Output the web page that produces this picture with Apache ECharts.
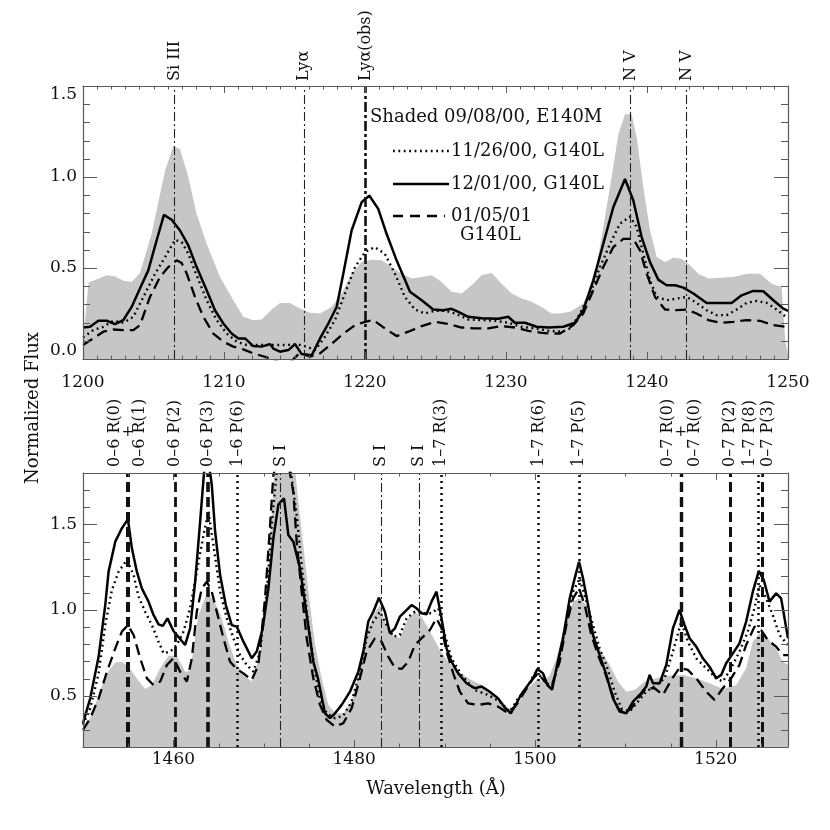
<!DOCTYPE html>
<html>
<head>
<meta charset="utf-8">
<script src="https://cdn.jsdelivr.net/npm/echarts@6/dist/echarts.min.js"></script>
<style>
  html, body { margin: 0; padding: 0; background: #fff; }
  #main { width: 830px; height: 830px; }
</style>
</head>
<body>
<div id="main"></div>
<script>
// ---- data: [wavelength (A), normalized flux] ----
const topShaded = [[1200.0,0.10],[1200.4,0.42],[1200.5,0.423],[1201.68,0.46],[1202.27,0.454],[1202.86,0.43],[1203.45,0.423],[1204.04,0.473],[1204.87,0.688],[1205.82,1.035],[1206.41,1.17],[1206.88,1.153],[1207.47,0.998],[1208.06,0.797],[1208.77,0.633],[1209.72,0.45],[1210.66,0.323],[1211.37,0.232],[1212.08,0.213],[1212.67,0.217],[1213.38,0.272],[1213.97,0.308],[1214.68,0.308],[1215.39,0.277],[1216.1,0.254],[1216.81,0.25],[1217.63,0.286],[1218.34,0.36],[1219.05,0.469],[1219.76,0.533],[1220.47,0.546],[1221.18,0.542],[1221.89,0.505],[1222.6,0.469],[1223.31,0.442],[1224.02,0.45],[1224.72,0.46],[1225.43,0.423],[1226.14,0.369],[1226.85,0.36],[1227.56,0.405],[1228.27,0.46],[1228.98,0.473],[1229.69,0.414],[1230.4,0.36],[1231.11,0.332],[1231.82,0.314],[1232.53,0.286],[1233.23,0.25],[1233.83,0.25],[1234.54,0.259],[1235.48,0.305],[1236.19,0.414],[1236.9,0.724],[1237.49,0.998],[1237.97,1.235],[1238.44,1.345],[1238.91,1.345],[1239.27,1.217],[1239.74,0.943],[1240.21,0.706],[1240.69,0.56],[1241.28,0.533],[1241.87,0.557],[1242.46,0.551],[1243.05,0.515],[1243.64,0.469],[1244.35,0.442],[1245.18,0.447],[1246.12,0.45],[1247.07,0.469],[1248.01,0.469],[1248.84,0.414],[1249.55,0.396],[1249.8,0.104],[1250.0,0.02]];
const topDotted = [[1200.0,0.119],[1200.73,0.159],[1201.44,0.177],[1202.15,0.21],[1202.86,0.199],[1203.57,0.232],[1204.4,0.359],[1205.11,0.469],[1205.82,0.56],[1206.53,0.655],[1207.0,0.642],[1207.47,0.578],[1208.06,0.46],[1208.77,0.323],[1209.48,0.214],[1210.19,0.14],[1210.9,0.095],[1211.61,0.077],[1212.55,0.077],[1213.5,0.077],[1214.44,0.077],[1215.15,0.082],[1215.86,0.068],[1216.45,0.049],[1217.16,0.122],[1217.87,0.214],[1218.58,0.36],[1219.29,0.505],[1220.0,0.588],[1220.7,0.615],[1221.41,0.578],[1222.12,0.469],[1222.83,0.341],[1223.54,0.272],[1224.25,0.25],[1224.96,0.265],[1225.67,0.265],[1226.38,0.25],[1227.32,0.217],[1228.27,0.214],[1229.22,0.21],[1230.16,0.199],[1231.11,0.177],[1232.05,0.168],[1233.0,0.155],[1234.0,0.15],[1234.6,0.17],[1235.25,0.25],[1235.96,0.36],[1236.67,0.505],[1237.38,0.633],[1238.08,0.743],[1238.79,0.783],[1239.27,0.724],[1239.74,0.578],[1240.21,0.432],[1240.69,0.341],[1241.39,0.323],[1242.1,0.332],[1242.81,0.341],[1243.52,0.308],[1244.23,0.268],[1244.94,0.241],[1245.65,0.241],[1246.36,0.272],[1247.07,0.308],[1247.78,0.319],[1248.49,0.308],[1249.2,0.272],[1249.91,0.228]];
const topSolid = [[1200.0,0.173],[1200.5,0.177],[1201.09,0.21],[1201.68,0.21],[1202.27,0.192],[1202.86,0.214],[1203.45,0.286],[1204.04,0.387],[1204.63,0.487],[1205.22,0.651],[1205.74,0.792],[1206.29,0.765],[1206.88,0.706],[1207.47,0.624],[1208.06,0.505],[1208.77,0.378],[1209.36,0.268],[1209.95,0.195],[1210.54,0.14],[1211.02,0.113],[1211.49,0.113],[1212.08,0.071],[1212.67,0.068],[1213.26,0.082],[1213.5,0.057],[1213.97,0.04],[1214.56,0.049],[1215.04,0.082],[1215.51,0.027],[1216.22,0.02],[1216.81,0.113],[1217.4,0.195],[1217.99,0.286],[1218.46,0.469],[1219.05,0.706],[1219.76,0.861],[1220.3,0.898],[1220.94,0.825],[1221.53,0.688],[1222.24,0.542],[1223.19,0.369],[1224.02,0.323],[1224.84,0.272],[1225.55,0.268],[1226.14,0.276],[1226.62,0.259],[1227.32,0.232],[1228.27,0.224],[1229.45,0.221],[1230.16,0.232],[1230.63,0.199],[1231.34,0.199],[1232.17,0.177],[1233.0,0.173],[1234.07,0.177],[1234.89,0.199],[1235.48,0.268],[1236.19,0.432],[1236.9,0.633],[1237.61,0.834],[1238.44,0.989],[1239.03,0.871],[1239.62,0.67],[1240.21,0.533],[1240.8,0.436],[1241.39,0.405],[1241.99,0.405],[1242.58,0.392],[1243.29,0.36],[1244.23,0.308],[1245.18,0.308],[1246.0,0.308],[1246.71,0.35],[1247.54,0.374],[1248.25,0.372],[1248.96,0.323],[1249.67,0.277],[1250.0,0.265]];
const topDashed = [[1200.0,0.077],[1200.73,0.113],[1201.44,0.15],[1202.15,0.162],[1202.86,0.159],[1203.57,0.159],[1204.04,0.186],[1204.75,0.341],[1205.46,0.45],[1206.05,0.505],[1206.64,0.542],[1207.0,0.527],[1207.36,0.469],[1207.94,0.341],[1208.53,0.232],[1209.24,0.14],[1209.95,0.095],[1210.66,0.068],[1211.37,0.053],[1212.08,0.031],[1213.03,0.009],[1213.97,-0.02],[1214.68,-0.02],[1215.39,0.035],[1216.1,0.013],[1216.81,0.031],[1217.4,0.068],[1218.34,0.131],[1219.29,0.186],[1220.0,0.204],[1220.59,0.214],[1221.41,0.168],[1222.24,0.126],[1223.07,0.15],[1224.02,0.181],[1224.96,0.204],[1225.9,0.192],[1226.85,0.173],[1227.8,0.168],[1228.74,0.168],[1229.69,0.181],[1230.63,0.173],[1231.58,0.155],[1232.53,0.144],[1233.12,0.14],[1233.83,0.14],[1234.77,0.186],[1235.48,0.25],[1236.19,0.378],[1236.9,0.505],[1237.61,0.615],[1238.32,0.66],[1239.03,0.66],[1239.5,0.597],[1239.98,0.469],[1240.57,0.341],[1241.28,0.272],[1242.1,0.268],[1242.81,0.272],[1243.52,0.25],[1244.35,0.214],[1245.18,0.199],[1246.12,0.204],[1247.07,0.214],[1248.01,0.21],[1248.96,0.186],[1249.79,0.177]];

const botShaded = [[1450.0,0.3],[1450.8,0.368],[1451.73,0.504],[1452.65,0.63],[1453.57,0.693],[1454.3,0.698],[1455.04,0.669],[1455.96,0.6],[1456.88,0.539],[1457.62,0.562],[1458.54,0.66],[1459.46,0.733],[1460.38,0.733],[1461.3,0.64],[1461.85,0.644],[1462.78,0.971],[1463.7,1.097],[1464.43,1.058],[1465.17,0.981],[1466.09,0.815],[1467.01,0.679],[1467.93,0.611],[1468.67,0.582],[1469.59,0.737],[1470.33,1.068],[1470.88,1.554],[1471.3,1.9],[1472.3,2.05],[1473.3,1.9],[1474.0,1.55],[1474.75,1.2],[1475.3,0.95],[1475.67,0.8],[1476.4,0.601],[1477.14,0.446],[1477.88,0.397],[1478.8,0.397],[1479.72,0.465],[1480.46,0.621],[1481.2,0.835],[1482.12,0.971],[1482.85,1.029],[1483.4,0.932],[1484.14,0.854],[1485.06,0.835],[1485.98,0.951],[1486.72,0.99],[1487.46,0.961],[1488.38,0.874],[1489.48,0.767],[1490.4,0.698],[1491.51,0.64],[1492.98,0.591],[1494.45,0.553],[1495.93,0.494],[1497.22,0.416],[1498.14,0.455],[1499.24,0.543],[1500.16,0.591],[1501.08,0.582],[1501.64,0.621],[1502.38,0.718],[1503.3,0.912],[1504.22,1.049],[1504.95,1.068],[1505.69,1.029],[1506.43,0.854],[1507.35,0.757],[1508.27,0.679],[1509.19,0.582],[1510.11,0.523],[1511.03,0.533],[1512.14,0.582],[1513.43,0.601],[1514.9,0.617],[1516.37,0.621],[1517.85,0.601],[1519.32,0.572],[1520.79,0.539],[1522.27,0.562],[1523.37,0.66],[1524.11,0.815],[1524.84,0.864],[1525.76,0.835],[1526.69,0.776],[1527.42,0.698],[1528.0,0.68]];
const botDotted = [[1450.0,0.33],[1450.8,0.426],[1451.73,0.63],[1452.46,0.912],[1453.2,1.117],[1453.94,1.224],[1454.86,1.292],[1455.6,1.204],[1456.15,1.078],[1456.88,0.99],[1457.62,0.912],[1458.36,0.815],[1458.91,0.747],[1459.65,0.757],[1460.38,0.796],[1461.12,0.874],[1461.85,1.01],[1462.59,1.224],[1463.33,1.438],[1463.88,1.574],[1464.43,1.379],[1465.17,1.107],[1465.91,0.951],[1466.64,0.835],[1467.38,0.737],[1468.12,0.679],[1468.85,0.64],[1469.59,0.757],[1470.33,1.107],[1470.88,1.496],[1471.43,1.807],[1472.5,2.0],[1473.64,1.554],[1474.19,1.263],[1474.93,0.912],[1475.67,0.64],[1476.22,0.484],[1476.96,0.397],[1477.88,0.368],[1478.8,0.383],[1479.72,0.465],[1480.64,0.64],[1481.38,0.835],[1482.12,0.932],[1482.85,0.99],[1483.59,0.912],[1484.33,0.844],[1485.06,0.854],[1485.8,0.951],[1486.72,0.99],[1487.64,0.981],[1488.56,0.981],[1489.3,1.01],[1490.04,0.854],[1490.77,0.718],[1491.88,0.621],[1493.35,0.533],[1494.82,0.504],[1496.11,0.465],[1497.22,0.407],[1498.14,0.484],[1499.06,0.543],[1499.98,0.63],[1500.72,0.611],[1501.45,0.562],[1502.0,0.562],[1502.74,0.737],[1503.48,0.932],[1504.22,1.107],[1504.95,1.185],[1505.69,1.049],[1506.43,0.912],[1507.16,0.776],[1507.9,0.679],[1508.82,0.523],[1509.56,0.426],[1510.48,0.407],[1511.4,0.465],[1512.32,0.523],[1513.43,0.562],[1514.35,0.601],[1515.27,0.757],[1516.19,0.932],[1516.92,0.815],[1517.85,0.718],[1518.95,0.66],[1520.06,0.601],[1520.79,0.582],[1521.71,0.66],[1522.63,0.757],[1523.55,0.874],[1524.29,1.01],[1524.84,1.146],[1525.58,1.068],[1526.32,0.971],[1527.06,0.854],[1527.98,0.796]];
const botSolid = [[1450.0,0.34],[1450.8,0.484],[1451.73,0.728],[1452.46,1.029],[1452.83,1.224],[1453.57,1.399],[1454.3,1.477],[1454.97,1.531],[1455.41,1.36],[1455.96,1.224],[1456.51,1.126],[1457.25,1.049],[1457.8,0.971],[1458.36,0.916],[1458.83,0.907],[1459.35,0.951],[1460.01,0.877],[1460.68,0.835],[1461.3,0.796],[1461.85,0.893],[1462.41,1.165],[1462.96,1.516],[1463.4,1.81],[1463.81,1.9],[1464.25,1.73],[1464.62,1.457],[1465.17,1.204],[1465.8,1.029],[1466.46,0.912],[1467.01,0.903],[1467.75,0.815],[1468.67,0.718],[1469.22,0.757],[1469.88,0.893],[1470.51,1.126],[1471.06,1.418],[1471.62,1.617],[1472.24,1.652],[1472.72,1.438],[1473.27,1.399],[1474.01,1.243],[1474.75,0.971],[1475.48,0.698],[1476.0,0.6],[1476.77,0.397],[1477.33,0.368],[1477.88,0.397],[1478.62,0.446],[1479.54,0.523],[1480.46,0.64],[1481.01,0.757],[1481.56,0.932],[1482.12,0.99],[1482.74,1.072],[1483.4,0.99],[1483.96,0.864],[1484.51,0.893],[1485.06,0.961],[1485.62,0.99],[1486.35,1.029],[1486.9,1.01],[1487.46,0.981],[1488.01,0.975],[1488.56,1.049],[1489.11,1.107],[1489.67,0.951],[1490.22,0.776],[1490.77,0.698],[1491.51,0.63],[1492.43,0.572],[1493.35,0.543],[1494.09,0.553],[1495.0,0.523],[1495.93,0.484],[1496.66,0.43],[1497.33,0.397],[1497.95,0.455],[1498.5,0.508],[1499.24,0.562],[1499.8,0.601],[1500.27,0.656],[1500.9,0.63],[1501.38,0.562],[1501.9,0.535],[1502.38,0.66],[1503.11,0.835],[1503.85,1.068],[1504.4,1.185],[1504.88,1.282],[1505.32,1.185],[1505.88,1.029],[1506.43,0.854],[1507.16,0.737],[1507.9,0.621],[1508.64,0.484],[1509.37,0.407],[1510.11,0.397],[1510.85,0.465],[1511.58,0.504],[1512.32,0.553],[1512.69,0.621],[1513.06,0.572],[1513.8,0.572],[1514.53,0.679],[1515.27,0.893],[1516.0,1.0],[1516.56,0.912],[1517.11,0.835],[1517.85,0.786],[1518.58,0.718],[1519.32,0.669],[1520.06,0.601],[1520.61,0.621],[1521.16,0.689],[1521.9,0.747],[1522.63,0.805],[1523.37,0.932],[1524.11,1.107],[1524.77,1.228],[1525.32,1.175],[1525.95,1.049],[1526.69,1.097],[1527.24,1.068],[1528.0,0.835]];
const botDashed = [[1450.0,0.3],[1450.8,0.368],[1451.73,0.484],[1452.65,0.64],[1453.57,0.776],[1454.3,0.874],[1454.97,0.912],[1455.6,0.854],[1456.33,0.718],[1457.07,0.601],[1457.8,0.562],[1458.54,0.582],[1459.28,0.679],[1460.01,0.718],[1460.75,0.64],[1461.49,0.582],[1462.04,0.718],[1462.59,0.99],[1463.14,1.126],[1463.7,1.165],[1464.25,1.107],[1464.8,0.99],[1465.54,0.835],[1466.27,0.698],[1467.01,0.656],[1467.75,0.63],[1468.67,0.591],[1469.4,0.679],[1470.14,1.068],[1470.7,1.496],[1471.06,1.788],[1472.2,2.0],[1473.27,1.69],[1473.64,1.399],[1474.19,1.107],[1474.75,0.835],[1475.48,0.601],[1476.22,0.446],[1476.96,0.358],[1477.88,0.319],[1478.8,0.339],[1479.72,0.426],[1480.64,0.601],[1481.38,0.757],[1482.3,0.835],[1483.04,0.815],[1483.77,0.728],[1484.51,0.663],[1485.25,0.656],[1485.98,0.698],[1486.72,0.796],[1487.46,0.835],[1488.38,0.883],[1489.11,0.951],[1489.67,0.893],[1490.22,0.757],[1490.96,0.63],[1491.69,0.523],[1492.61,0.455],[1493.72,0.446],[1494.82,0.455],[1495.93,0.436],[1497.03,0.397],[1497.95,0.446],[1498.87,0.523],[1499.8,0.601],[1500.35,0.63],[1501.08,0.582],[1501.82,0.553],[1502.74,0.698],[1503.48,0.912],[1504.22,1.068],[1504.88,1.126],[1505.51,1.029],[1506.24,0.854],[1506.98,0.737],[1507.72,0.64],[1508.45,0.523],[1509.19,0.426],[1509.93,0.397],[1510.66,0.426],[1511.4,0.484],[1512.32,0.543],[1513.24,0.543],[1514.16,0.504],[1515.08,0.591],[1516.0,0.663],[1516.92,0.65],[1517.85,0.601],[1518.95,0.523],[1519.87,0.475],[1520.79,0.543],[1521.71,0.601],[1522.63,0.679],[1523.37,0.796],[1524.29,0.903],[1525.03,0.883],[1525.76,0.825],[1526.69,0.786],[1527.42,0.737],[1528.0,0.737]];

// identified lines
const topLineWl = [1206.5, 1215.67, 1220.05, 1238.82, 1242.8];
const topLineNames = ['Si III', 'Lyα', 'Lyα(obs)', 'N V', 'N V'];
const botLineWl = [1454.95, 1460.2, 1463.85, 1467.1, 1471.85, 1483.0, 1487.2, 1489.6, 1500.4, 1504.9, 1516.15, 1521.6, 1524.7, 1525.1];
const botLabelNames = ['0–6 R(0)', '0–6 R(1)', '0–6 P(2)', '0–6 P(3)', '1–6 P(6)', 'S I', 'S I', 'S I', '1–7 R(3)', '1–7 R(6)', '1–7 P(5)', '0–7 R(0)', '0–7 R(0)', '0–7 P(2)', '1–7 P(8)', '0–7 P(3)'];
const botLabelWl = [1454.95, 1454.95, 1460.2, 1463.85, 1467.1, 1471.85, 1483.0, 1487.2, 1489.6, 1500.4, 1504.9, 1516.15, 1516.15, 1521.6, 1524.7, 1525.1];
const blendWl = [1454.95, 1516.15];

// axis ticks: [major values], minor step
const topXTicks = [1200, 1210, 1220, 1230, 1240, 1250];
const topYTicks = [0, 0.5, 1.0, 1.5];
const botXTicks = [1460, 1480, 1500, 1520];
const botYTicks = [0.5, 1.0, 1.5];

const legendText = ['Shaded 09/08/00, E140M', '11/26/00, G140L', '12/01/00, G140L', '01/05/01', 'G140L'];

// ---- styles ----
const FONT = '"DejaVu Serif", "Liberation Serif", serif';
const AX = '#5a5a5a';
const INK = '#111';
const GRAY = '#c6c6c6';
const dashDot = { color: '#222', width: 1.1, type: [9, 3, 2, 3] };
const thickDashDot = { color: '#111', width: 2.6, type: [10, 3, 3, 3] };
const dotV = { color: '#111', width: 2.6, type: [2, 4] };
const dashV = w => ({ color: '#111', width: w, type: [10, 5] });
const topLineStyles = [dashDot, dashDot, thickDashDot, dashDot, dashDot];
const botLineStyles = [dashV(4), dashV(2.8), dashV(3.6), dotV, dashDot, dashDot, dashDot, dotV, dotV, dotV, dashV(3.4), dashV(3), dotV, dashV(3)];
const botLabelDx = [-12.5, 12.5, 0, 0, 0, 0, 0, 0, 0, 0, 0, -13.5, 13.5, 0, -8, 6];

const chart = echarts.init(document.getElementById('main'));

function axis(o) {
  return Object.assign({
    type: 'value', z: 8,
    splitLine: { show: false },
    axisTick: { show: false },
    axisLine: { show: true, onZero: false, lineStyle: { color: AX, width: 1.2 } },
    axisLabel: { show: false }
  }, o);
}
const labelFont = { show: true, fontFamily: FONT, fontSize: 17, color: INK };
const intFmt = v => String(Math.round(v));
const fmt = v => Number(v).toFixed(1);

const xAxes = [
  axis({ gridIndex: 0, min: 1200, max: 1250, interval: 10, position: 'bottom',
    axisLabel: Object.assign({ margin: 15, formatter: intFmt }, labelFont) }),
  axis({ gridIndex: 0, min: 1200, max: 1250, position: 'top' }),
  axis({ gridIndex: 1, min: 1450, max: 1528, position: 'bottom',
    axisLabel: Object.assign({ margin: 4, customValues: botXTicks, formatter: intFmt }, labelFont) }),
  axis({ gridIndex: 1, min: 1450, max: 1528, position: 'top' })
];
const yAxes = [
  axis({ gridIndex: 0, min: 0, max: 1.5, interval: 0.5, position: 'left',
    axisLabel: Object.assign({ margin: 6, formatter: fmt, verticalAlignMinLabel: 'bottom', verticalAlignMaxLabel: 'top' }, labelFont) }),
  axis({ gridIndex: 0, min: 0, max: 1.5, position: 'right' }),
  axis({ gridIndex: 1, min: 0.2, max: 1.8, position: 'left',
    axisLabel: Object.assign({ margin: 6, formatter: fmt, customValues: botYTicks }, labelFont) }),
  axis({ gridIndex: 1, min: 0.2, max: 1.8, position: 'right' })
];

function shaded(data, xi, yi) {
  return { type: 'line', data, xAxisIndex: xi, yAxisIndex: yi, symbol: 'none', silent: true, z: 1,
    lineStyle: { width: 0 }, itemStyle: { color: GRAY }, areaStyle: { color: GRAY, opacity: 1, origin: 'start' } };
}
function curve(data, xi, yi, type, width) {
  return { type: 'line', data, xAxisIndex: xi, yAxisIndex: yi, symbol: 'none', silent: true, z: 3,
    lineStyle: { color: '#000', width, type } };
}
function marks(wls, styles, xi, yi) {
  return { type: 'line', data: [], xAxisIndex: xi, yAxisIndex: yi, symbol: 'none', silent: true, z: 4,
    markLine: { silent: true, symbol: ['none', 'none'], animation: false, label: { show: false },
      data: wls.map((w, i) => ({ xAxis: w, lineStyle: styles[i] })) } };
}

const grids = [
  { left: 83, top: 86, width: 705, height: 273 },
  { left: 83, top: 473, width: 705, height: 274 }
];

chart.setOption({
  animation: false,
  backgroundColor: '#fff',
  grid: grids,
  xAxis: xAxes,
  yAxis: yAxes,
  series: [
    shaded(topShaded, 0, 0),
    curve(topDotted, 0, 0, [1.8, 3.6], 2.4),
    curve(topSolid, 0, 0, 'solid', 2.5),
    curve(topDashed, 0, 0, [11, 6], 2.3),
    marks(topLineWl, topLineStyles, 0, 0),
    shaded(botShaded, 2, 2),
    curve(botDotted, 2, 2, [1.8, 3.6], 2.4),
    curve(botSolid, 2, 2, 'solid', 2.5),
    curve(botDashed, 2, 2, [11, 6], 2.3),
    marks(botLineWl, botLineStyles, 2, 2)
  ]
});

// ---- ticks (inside, on all four sides), placed through the axes ----
const g = [];
function seg(x1, y1, x2, y2) {
  g.push({ type: 'line', silent: true, z: 20, shape: { x1, y1, x2, y2 }, style: { stroke: AX, lineWidth: 1 } });
}
function range(a, b, step) {
  const out = [];
  for (let k = 0; a + k * step <= b + 1e-9; k++) out.push(+(a + k * step).toFixed(6));
  return out;
}
function xTicks(gi, xi, values, len) {
  const gr = grids[gi];
  values.forEach(v => {
    const x = Math.round(chart.convertToPixel({ xAxisIndex: xi }, v)) + 0.5;
    seg(x, gr.top + gr.height, x, gr.top + gr.height - len);
    seg(x, gr.top, x, gr.top + len);
  });
}
function yTicks(gi, yi, values, len) {
  const gr = grids[gi];
  values.forEach(v => {
    const y = Math.round(chart.convertToPixel({ yAxisIndex: yi }, v)) + 0.5;
    seg(gr.left, y, gr.left + len, y);
    seg(gr.left + gr.width, y, gr.left + gr.width - len, y);
  });
}
xTicks(0, 0, range(1200, 1250, 1), 3.5);
xTicks(0, 0, topXTicks, 7);
yTicks(0, 0, range(0, 1.5, 0.1), 7);
yTicks(0, 0, topYTicks, 14);
xTicks(1, 2, range(1450, 1525, 5), 3.5);
xTicks(1, 2, botXTicks, 7);
yTicks(1, 2, range(0.2, 1.8, 0.1), 7);
yTicks(1, 2, botYTicks, 14);

// ---- annotations ----
const px = (gi, w) => chart.convertToPixel({ xAxisIndex: gi === 0 ? 0 : 2 }, w);
const vText = (text, x, y, size, align) => ({
  type: 'text', x, y, rotation: Math.PI / 2, silent: true, z: 20,
  style: { text, fill: INK, font: size + 'px ' + FONT, textAlign: align || 'left', textVerticalAlign: 'middle' }
});
const hText = (text, x, y, size, align) => ({
  type: 'text', x, y, silent: true, z: 20,
  style: { text, fill: INK, font: size + 'px ' + FONT, textAlign: align || 'left', textVerticalAlign: 'middle' }
});
topLineNames.forEach((n, i) => g.push(vText(n, px(0, topLineWl[i]), 81, 16)));
botLabelNames.forEach((n, i) => g.push(vText(n, px(1, botLabelWl[i]) + botLabelDx[i], 467, 16)));
blendWl.forEach(w => g.push(hText('+', px(1, w), 432, 15, 'center')));

// legend
const lx1 = 393, lx2 = 449;
g.push(hText(legendText[0], 370, 117, 18));
g.push({ type: 'line', silent: true, z: 20, shape: { x1: lx1, y1: 151, x2: lx2, y2: 151 }, style: { stroke: '#000', lineWidth: 2.4, lineDash: [1.8, 3.6] } });
g.push(hText(legendText[1], 451, 151, 18));
g.push({ type: 'line', silent: true, z: 20, shape: { x1: lx1, y1: 184, x2: lx2, y2: 184 }, style: { stroke: '#000', lineWidth: 2.5 } });
g.push(hText(legendText[2], 451, 184, 18));
g.push({ type: 'line', silent: true, z: 20, shape: { x1: lx1, y1: 216, x2: 445, y2: 216 }, style: { stroke: '#000', lineWidth: 2.3, lineDash: [10, 7] } });
g.push(hText(legendText[3], 451, 216, 18));
g.push(hText(legendText[4], 460, 235, 18));

// axis titles
g.push(vText('Normalized Flux', 33, 408, 18, 'center'));
g.push(hText('Wavelength (Å)', 436, 789, 18, 'center'));

chart.setOption({ graphic: { elements: g } });
</script>
</body>
</html>
